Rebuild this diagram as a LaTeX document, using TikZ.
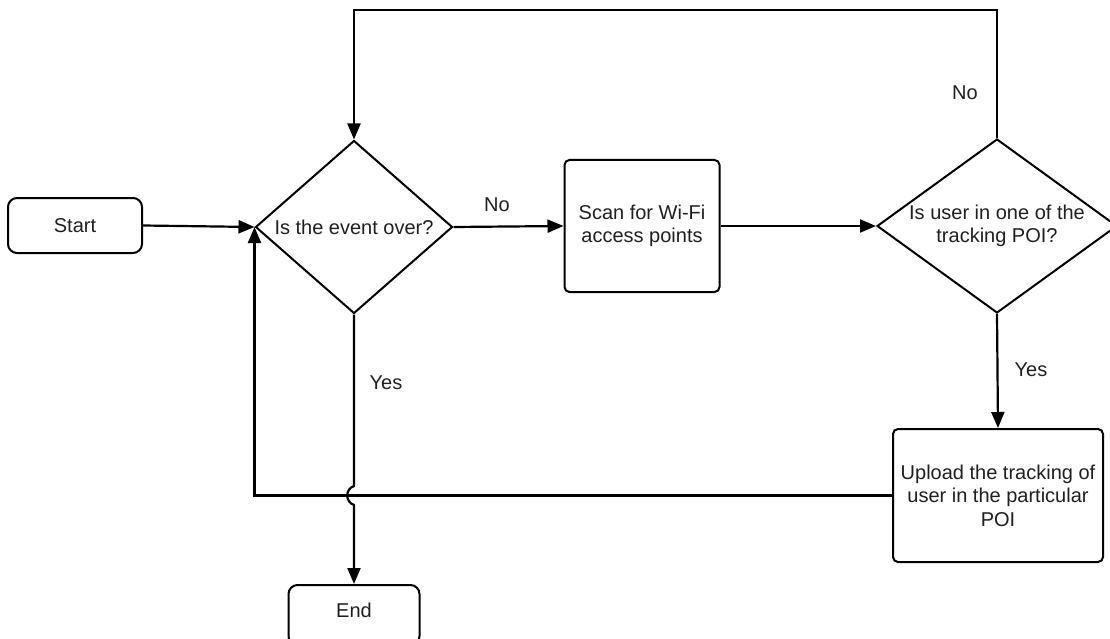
\documentclass[tikz,border=0pt]{standalone}
\usepackage{fontspec}
\setmainfont{Liberation Sans}
\usetikzlibrary{shapes.geometric,arrows.meta}
\begin{document}
\begin{tikzpicture}[x=1pt,y=-1pt,
  every node/.style={font=\fontsize{20}{23.5}\selectfont, text=black!88},
  term/.style={draw=black, line width=2pt, rounded corners=9pt, minimum width=134pt, minimum height=55pt},
  proc/.style={draw=black, line width=2pt, rounded corners=5pt, align=center},
  dec/.style={draw=black, line width=2pt, diamond, inner sep=0pt},
  txt/.style={align=center},
  flow/.style={line width=2.2pt, -{Triangle[length=16pt,width=13pt]}}
]
\useasboundingbox (0,0) rectangle (1110,639);

% terminals
\node[term] (start) at (75,225.5) {Start};
\node[term, minimum width=131pt, minimum height=60pt] (end) at (354,615) {};
\node at (354,610) {End};

% decisions
\node[dec, minimum width=197pt, minimum height=173pt] (q1) at (354,227) {};
\node[txt] at (q1) {Is the event over?};
\node[dec, minimum width=240pt, minimum height=174pt] (q2) at (997,226) {};
\node[txt] at (q2) {Is user in one of the\\tracking POI?};

% processes
\node[proc, minimum width=155pt, minimum height=132pt] (scan) at (642,226) {Scan for Wi-Fi\\access points};
\node[proc, minimum width=210pt, minimum height=133pt] (upload) at (998,495.5) {Upload the tracking of\\user in the particular\\POI};

% connectors
\draw[flow] (start.east) -- (q1.west);
\draw[flow] (q1.east) -- (scan.west);
\draw[flow] (scan.east) -- (q2.west);
\draw[flow] (q2.south) -- (upload.north);
\coordinate (topright) at (997,10);
\draw[flow] (q2.north) -- (topright) -| (q1.north);
\draw[flow] (upload.west) -| (q1.west);
\coordinate (jumpA) at (354,486);
\coordinate (jumpB) at (354,505);
\draw[flow] (q1.south) -- (jumpA) .. controls (345,489) and (345,502) .. (jumpB) -- (end.north);

% labels
\node at (497,205) {No};
\node at (965,93) {No};
\node at (1031,370) {Yes};
\node at (386,383) {Yes};
\end{tikzpicture}
\end{document}
